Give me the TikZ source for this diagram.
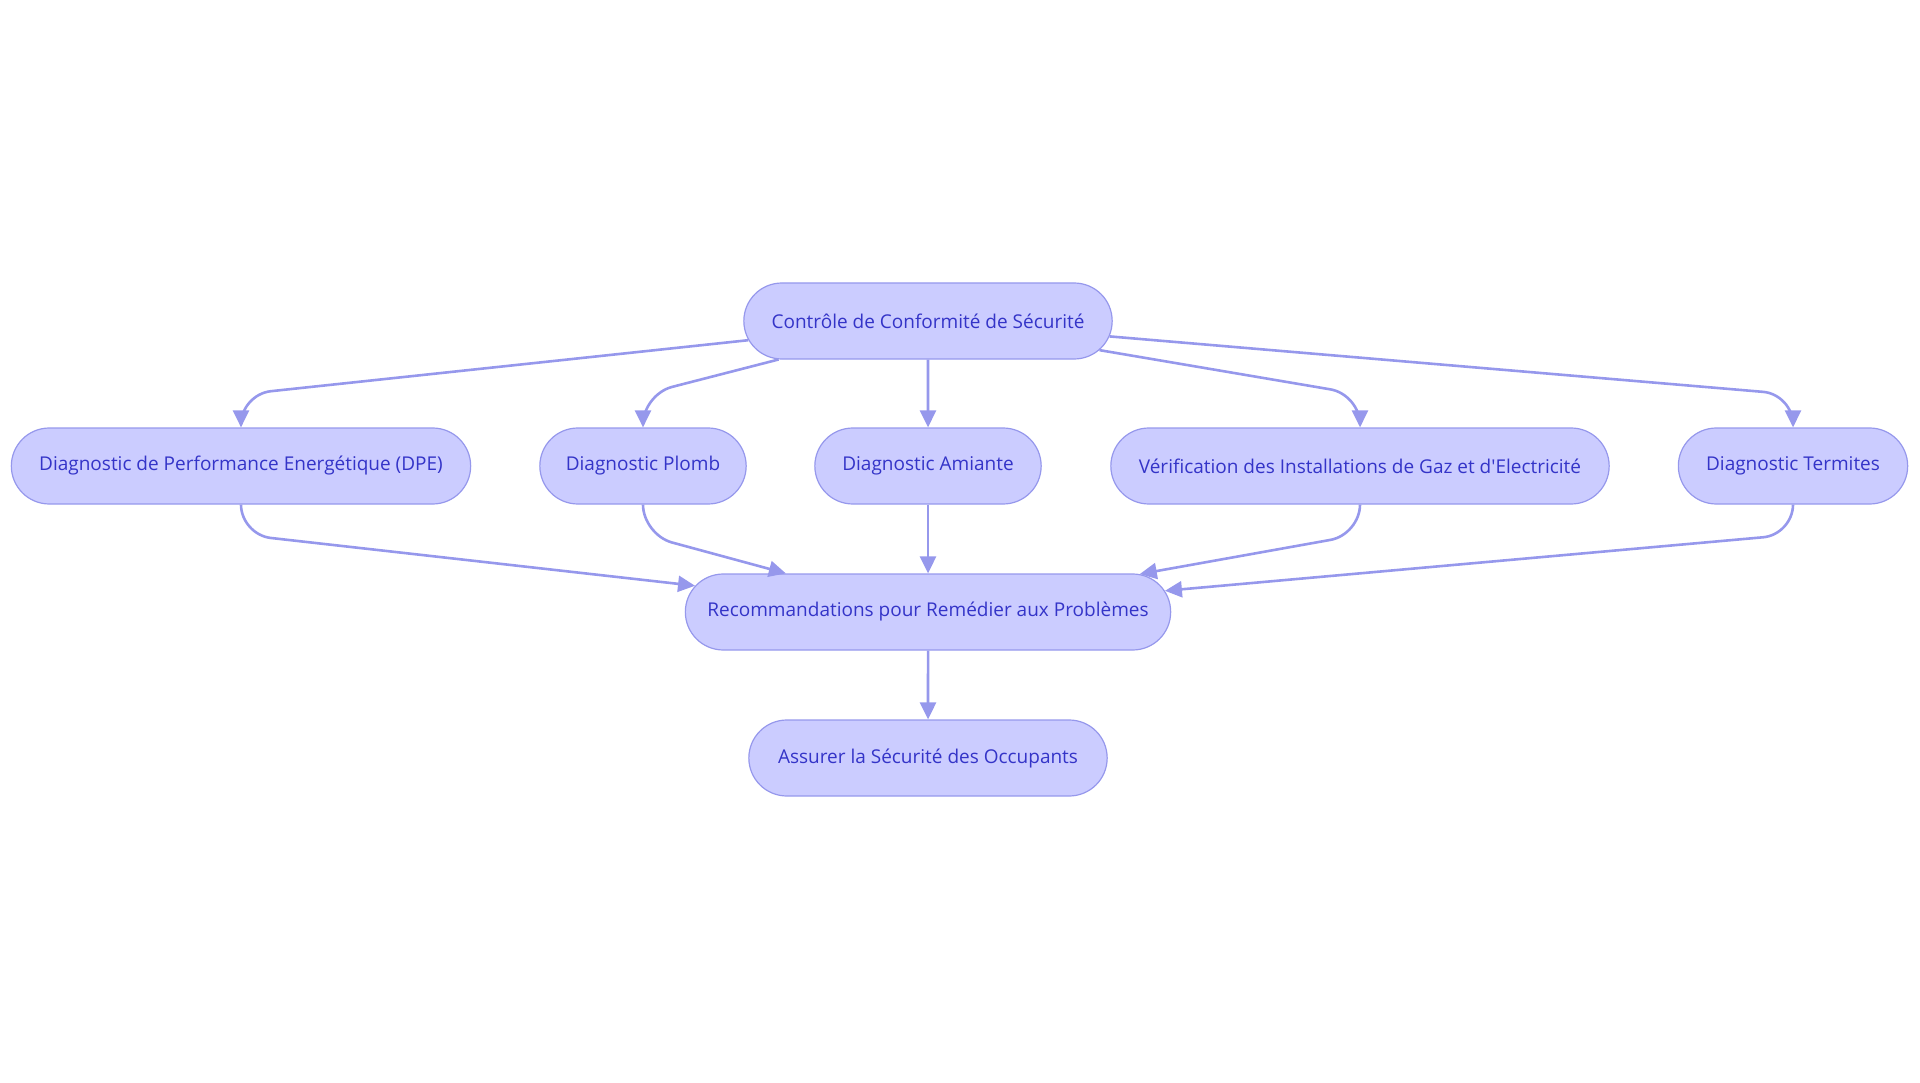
\documentclass[tikz,border=0pt]{standalone}
\usepackage{fontspec}
\setmainfont{Open Sans}
\usetikzlibrary{shapes.misc,arrows.meta}
\definecolor{boxfill}{RGB}{203,204,255}
\definecolor{boxline}{RGB}{150,152,236}
\definecolor{boxtext}{RGB}{52,52,200}
\begin{document}
\begin{tikzpicture}[x=1pt, y=-1pt,
    box/.style={rounded rectangle, draw=boxline, line width=1.2pt, fill=boxfill,
        text=boxtext, minimum height=76pt, font=\fontsize{19}{23}\selectfont},
    flow/.style={draw=boxline, line width=2.6pt, rounded corners=30pt,
        -{Triangle[length=17pt,width=16pt]}}]
    \useasboundingbox (0,0) rectangle (1920,1083);

    \node[box, minimum width=375pt] (ctrl) at (928,321) {Contrôle de Conformité de Sécurité};

    \node[box, minimum width=466pt] (dpe) at (241,466) {Diagnostic de Performance Energétique (DPE)};
    \node[box, minimum width=213pt] (plomb) at (643,466) {Diagnostic Plomb};
    \node[box, minimum width=233pt] (amiante) at (928,466) {Diagnostic Amiante};
    \node[box, minimum width=505pt] (gazelec) at (1360,466) {Vérification des Installations de Gaz et d\textquotesingle Electricité};
    \node[box, minimum width=236pt] (termites) at (1793,466) {Diagnostic Termites};

    \node[box, minimum width=492pt] (recomm) at (928,612) {Recommandations pour Remédier aux Problèmes};
    \node[box, minimum width=365pt] (assurer) at (928,758) {Assurer la Sécurité des Occupants};

    % vers les diagnostics
    \draw[flow] (ctrl) -- ([yshift=33pt]dpe.north) -- (dpe.north);
    \draw[flow] (ctrl) -- ([yshift=33pt]plomb.north) -- (plomb.north);
    \draw[flow] (ctrl) -- (amiante);
    \draw[flow] (ctrl) -- ([yshift=33pt]gazelec.north) -- (gazelec.north);
    \draw[flow] (ctrl) -- ([yshift=33pt]termites.north) -- (termites.north);

    % vers les recommandations
    \draw[flow] (dpe.south) -- ([yshift=-30pt]dpe.south) -- (recomm);
    \draw[flow] (plomb.south) -- ([yshift=-30pt]plomb.south) -- (recomm);
    \draw[flow] (amiante) -- (recomm);
    \draw[flow] (gazelec.south) -- ([yshift=-30pt]gazelec.south) -- (recomm);
    \draw[flow] (termites.south) -- ([yshift=-30pt]termites.south) -- (recomm);

    \draw[flow] (recomm) -- (assurer);
\end{tikzpicture}
\end{document}
